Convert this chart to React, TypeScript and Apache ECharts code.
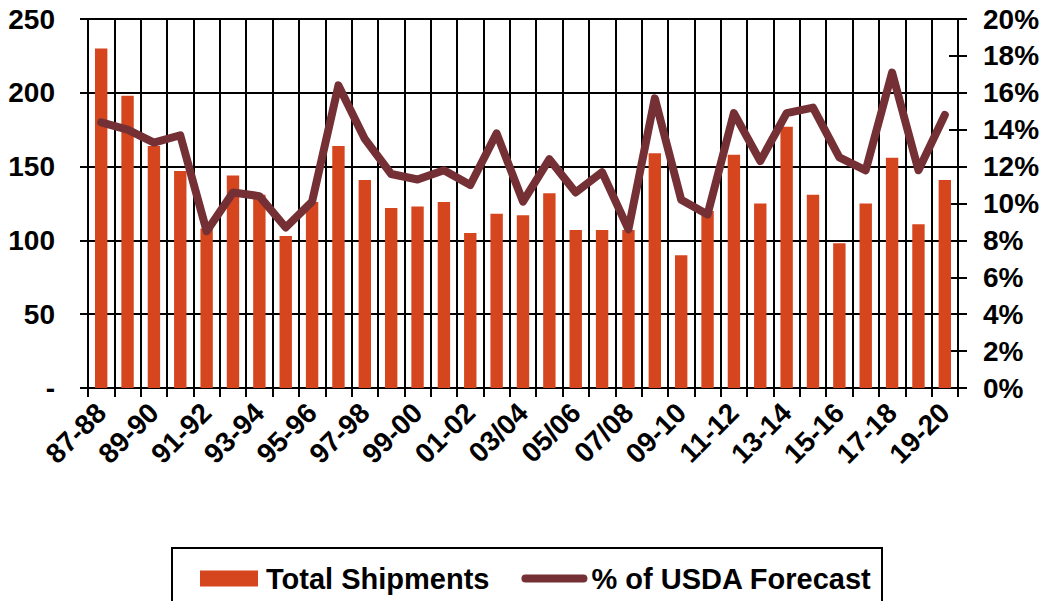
import React, { useEffect, useRef } from "react";
import * as echarts from "echarts";

const categories = [
  "87-88", "88-89", "89-90", "90-91", "91-92", "92-93", "93-94", "94-95", "95-96", "96-97",
  "97-98", "98-99", "99-00", "00-01", "01-02", "02-03", "03/04", "04/05", "05/06", "06/07",
  "07/08", "08/09", "09-10", "10-11", "11-12", "12-13", "13-14", "14-15", "15-16", "16-17",
  "17-18", "18-19", "19-20",
];

const totalShipments = [
  230, 198, 164, 147, 108, 144, 131, 103, 126, 164,
  141, 122, 123, 126, 105, 118, 117, 132, 107, 107,
  107, 159, 90, 120, 158, 125, 177, 131, 98, 125,
  156, 111, 141,
];

const pctOfForecast = [
  14.4, 14.0, 13.3, 13.7, 8.5, 10.6, 10.4, 8.7, 10.1, 16.4,
  13.5, 11.6, 11.3, 11.8, 11.0, 13.8, 10.1, 12.4, 10.6, 11.7,
  8.6, 15.7, 10.2, 9.4, 14.9, 12.3, 14.9, 15.2, 12.5, 11.8,
  17.1, 11.8, 14.8,
];

const FONT = 'Arial, "Liberation Sans", sans-serif';
const BAR_COLOR = "#D5461E";
const LINE_COLOR = "#743034";

export default function App() {
  const ref = useRef<HTMLDivElement>(null);
  useEffect(() => {
    if (!ref.current) return;
    const chart = echarts.init(ref.current, null, { renderer: "svg" });
    chart.setOption({
      animation: false,
      backgroundColor: "#ffffff",
      textStyle: { fontFamily: FONT },
      grid: { left: 88, right: 89, top: 19, bottom: 213 },
      legend: {
        left: 200,
        top: 564,
        padding: 0,
        itemWidth: 58,
        itemHeight: 16,
        itemGap: 32,
        textStyle: {
          fontFamily: FONT,
          fontWeight: "bold",
          fontSize: 29,
          color: "#000",
          padding: [0, 0, 0, 3],
        },
        data: [
          { name: "Total Shipments", icon: "rect" },
          {
            name: "% of USDA Forecast",
            itemStyle: { opacity: 0 },
            lineStyle: { width: 8, cap: "round", color: LINE_COLOR },
          },
        ],
      },
      graphic: [
        {
          type: "rect",
          shape: { x: 172, y: 548, width: 710, height: 70 },
          style: { fill: "none", stroke: "#000", lineWidth: 2 },
          silent: true,
        },
      ],
      xAxis: {
        type: "category",
        data: categories,
        boundaryGap: true,
        axisLine: { show: true, lineStyle: { color: "#000", width: 2 } },
        axisTick: { show: true, interval: 0, length: 9, lineStyle: { color: "#000", width: 2 } },
        splitLine: { show: true, interval: 0, lineStyle: { color: "#000", width: 2 } },
        axisLabel: {
          interval: 1,
          rotate: 45,
          margin: 20,
          fontFamily: FONT,
          fontWeight: "bold",
          fontSize: 28,
          color: "#000",
        },
      },
      yAxis: [
        {
          type: "value",
          position: "left",
          min: 0,
          max: 250,
          interval: 50,
          axisLine: { show: true, lineStyle: { color: "#000", width: 2 } },
          axisTick: { show: true, length: 8, lineStyle: { color: "#000", width: 2 } },
          splitLine: { show: true, lineStyle: { color: "#000", width: 2 } },
          axisLabel: {
            margin: 33,
            fontFamily: FONT,
            fontWeight: "bold",
            fontSize: 28,
            color: "#000",
            formatter: (v: number) => (v === 0 ? "-" : String(v)),
          },
        },
        {
          type: "value",
          position: "right",
          min: 0,
          max: 20,
          interval: 2,
          axisLine: { show: true, lineStyle: { color: "#000", width: 2 } },
          axisTick: { show: true, length: 9, lineStyle: { color: "#000", width: 2 } },
          splitLine: { show: false },
          axisLabel: {
            margin: 25,
            fontFamily: FONT,
            fontWeight: "bold",
            fontSize: 28,
            color: "#000",
            formatter: (v: number) => v + "%",
          },
        },
        {
          type: "value",
          position: "right",
          min: 0,
          max: 20,
          interval: 2,
          axisLine: { show: false },
          axisTick: { show: true, inside: true, length: 9, lineStyle: { color: "#000", width: 2 } },
          splitLine: { show: false },
          axisLabel: { show: false },
        },
      ],
      series: [
        {
          name: "Total Shipments",
          type: "bar",
          yAxisIndex: 0,
          data: totalShipments,
          barWidth: "47%",
          itemStyle: { color: BAR_COLOR },
          z: 2,
        },
        {
          name: "% of USDA Forecast",
          type: "line",
          yAxisIndex: 1,
          data: pctOfForecast,
          symbol: "none",
          lineStyle: { color: LINE_COLOR, width: 8, cap: "round", join: "round" },
          itemStyle: { color: LINE_COLOR },
          z: 3,
        },
      ],
    });
    return () => chart.dispose();
  }, []);
  return (
    <div
      ref={ref}
      style={{ position: "fixed", left: 0, top: 0, width: 1047, height: 601 }}
    />
  );
}
